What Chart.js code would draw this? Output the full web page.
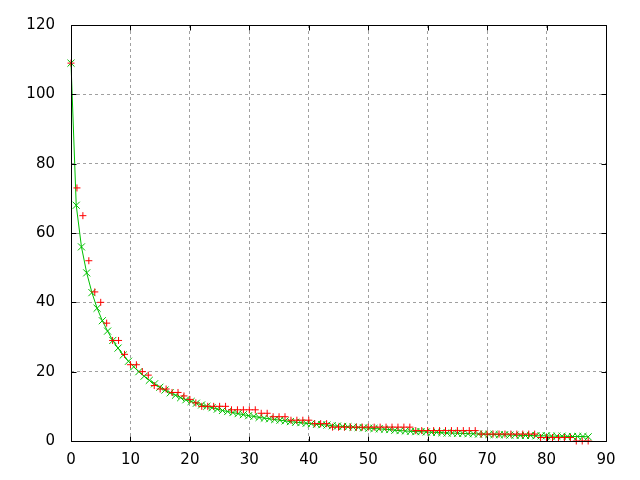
<!DOCTYPE html>
<html><head><meta charset="utf-8">
<script src="https://cdn.jsdelivr.net/npm/chart.js@4.4.0/dist/chart.umd.min.js"></script>
<style>html,body{margin:0;padding:0;background:#fff}</style>
</head><body>
<canvas id="c" width="640" height="480"></canvas>
<script>
// Tick labels
const xTicks = [0, 10, 20, 30, 40, 50, 60, 70, 80, 90];
const yTicks = [0, 20, 40, 60, 80, 100, 120];

// Measured data (red +), one value per integer x from 0 to 87
const dataY = [109, 73, 65, 52, 43, 40, 34, 29, 29, 25,
  22, 22, 20, 19, 16, 15, 15, 14, 14, 13,
  12, 11, 10, 10, 10, 10, 10, 9, 9, 9,
  9, 9, 8, 8, 7, 7, 7, 6, 6, 6,
  6, 5, 5, 5, 4, 4, 4, 4, 4, 4,
  4, 4, 4, 4, 4, 4, 4, 4, 3, 3,
  3, 3, 3, 3, 3, 3, 3, 3, 3, 2,
  2, 2, 2, 2, 2, 2, 2, 2, 2, 1,
  1, 1, 1, 1, 1, 0, 0, 0];

const fitX = [0, 0.88, 1.76, 2.64, 3.52, 4.39, 5.27, 6.15, 7.03, 7.91,
  8.79, 9.67, 10.55, 11.42, 12.30, 13.18, 14.06, 14.94, 15.82, 16.70,
  17.58, 18.45, 19.33, 20.21, 21.09, 21.97, 22.85, 23.73, 24.61, 25.48,
  26.36, 27.24, 28.12, 29.00, 29.88, 30.76, 31.64, 32.52, 33.39, 34.27,
  35.15, 36.03, 36.91, 37.79, 38.67, 39.55, 40.42, 41.30, 42.18, 43.06,
  43.94, 44.82, 45.70, 46.58, 47.45, 48.33, 49.21, 50.09, 50.97, 51.85,
  52.73, 53.61, 54.48, 55.36, 56.24, 57.12, 58.00, 58.88, 59.76, 60.64,
  61.52, 62.39, 63.27, 64.15, 65.03, 65.91, 66.79, 67.67, 68.55, 69.42,
  70.30, 71.18, 72.06, 72.94, 73.82, 74.70, 75.58, 76.45, 77.33, 78.21,
  79.09, 79.97, 80.85, 81.73, 82.61, 83.48, 84.36, 85.24, 86.12, 87.00];
const fitY = [109, 68, 56, 48.5, 42.8, 38.3, 34.7, 31.7, 29.0, 26.8,
  24.8, 23.0, 21.4, 20.0, 18.7, 17.5, 16.5, 15.5, 14.7, 13.9,
  13.2, 12.5, 11.9, 11.4, 10.9, 10.4, 10.0, 9.6, 9.2, 8.8,
  8.5, 8.2, 7.9, 7.6, 7.3, 7.1, 6.8, 6.6, 6.4, 6.2,
  6.0, 5.8, 5.6, 5.4, 5.3, 5.1, 5.0, 4.8, 4.7, 4.6,
  4.4, 4.3, 4.2, 4.1, 4.0, 3.9, 3.8, 3.7, 3.6, 3.5,
  3.4, 3.3, 3.1, 3.0, 2.9, 2.8, 2.7, 2.7, 2.6, 2.5,
  2.5, 2.4, 2.3, 2.3, 2.2, 2.2, 2.1, 2.1, 2.0, 2.0,
  1.9, 1.9, 1.8, 1.8, 1.7, 1.7, 1.6, 1.6, 1.6, 1.5,
  1.5, 1.5, 1.4, 1.4, 1.4, 1.3, 1.3, 1.3, 1.3, 1.2];

const redPts = dataY.map((v, i) => ({x: i, y: v}));
const fitPts = fitY.map((v, i) => ({x: fitX[i], y: v}));

const FONT = {family: 'DejaVu Sans', size: 15};

const framePlugin = {
  id: 'frame',
  afterDatasetsDraw(chart) {
    const {ctx, chartArea: a, scales: {x, y}} = chart;
    ctx.save();
    ctx.strokeStyle = '#000';
    ctx.lineWidth = 1;
    ctx.beginPath();
    const L = Math.round(a.left) + 0.5, R = Math.round(a.right) + 0.5;
    const T = Math.round(a.top) + 0.5, B = Math.round(a.bottom) + 0.5;
    ctx.rect(L, T, R - L, B - T);
    const tl = 5;
    xTicks.forEach(v => {
      const px = Math.round(x.getPixelForValue(v)) + 0.5;
      ctx.moveTo(px, B); ctx.lineTo(px, B - tl);
      ctx.moveTo(px, T); ctx.lineTo(px, T + tl);
    });
    yTicks.forEach(v => {
      const py = Math.round(y.getPixelForValue(v)) + 0.5;
      ctx.moveTo(L, py); ctx.lineTo(L + tl, py);
      ctx.moveTo(R, py); ctx.lineTo(R - tl, py);
    });
    ctx.stroke();
    ctx.restore();
  }
};

const bgPlugin = {
  id: 'bg',
  beforeDraw(chart) {
    const ctx = chart.ctx;
    ctx.save(); ctx.fillStyle = '#fff'; ctx.fillRect(0, 0, chart.width, chart.height); ctx.restore();
  }
};

new Chart(document.getElementById('c'), {
  type: 'scatter',
  data: {
    datasets: [
      {
        label: 'data',
        data: redPts,
        showLine: false,
        pointStyle: 'cross',
        pointRadius: 3.5,
        pointBorderWidth: 1,
        borderColor: '#ff0000',
        backgroundColor: '#ff0000',
        clip: false
      },
      {
        label: 'fit',
        data: fitPts,
        showLine: true,
        tension: 0,
        borderWidth: 1,
        borderColor: '#00c000',
        backgroundColor: '#00c000',
        pointStyle: 'crossRot',
        pointRadius: 5,
        pointBorderWidth: 1,
        clip: false
      }
    ]
  },
  options: {
    responsive: false,
    animation: false,
    devicePixelRatio: 1,
    layout: {padding: {top: 22, right: 34, left: 0, bottom: 0}},
    plugins: {legend: {display: false}, tooltip: {enabled: false}},
    scales: {
      x: {
        type: 'linear', min: 0, max: 90,
        afterBuildTicks: s => { s.ticks = xTicks.map(v => ({value: v})); },
        afterFit: s => { s.height = 39; },
        ticks: {color: '#000', font: FONT, padding: 10, maxRotation: 0, autoSkip: false},
        grid: {color: '#a0a0a0', lineWidth: 1, drawTicks: false},
        border: {display: false, dash: [3, 3]}
      },
      y: {
        type: 'linear', min: 0, max: 120,
        afterBuildTicks: s => { s.ticks = yTicks.map(v => ({value: v})); },
        afterFit: s => { s.width = 71; },
        ticks: {color: '#000', font: FONT, padding: 16, autoSkip: false},
        grid: {color: '#a0a0a0', lineWidth: 1, drawTicks: false},
        border: {display: false, dash: [3, 3]}
      }
    }
  },
  plugins: [bgPlugin, framePlugin]
});
</script>
</body></html>
